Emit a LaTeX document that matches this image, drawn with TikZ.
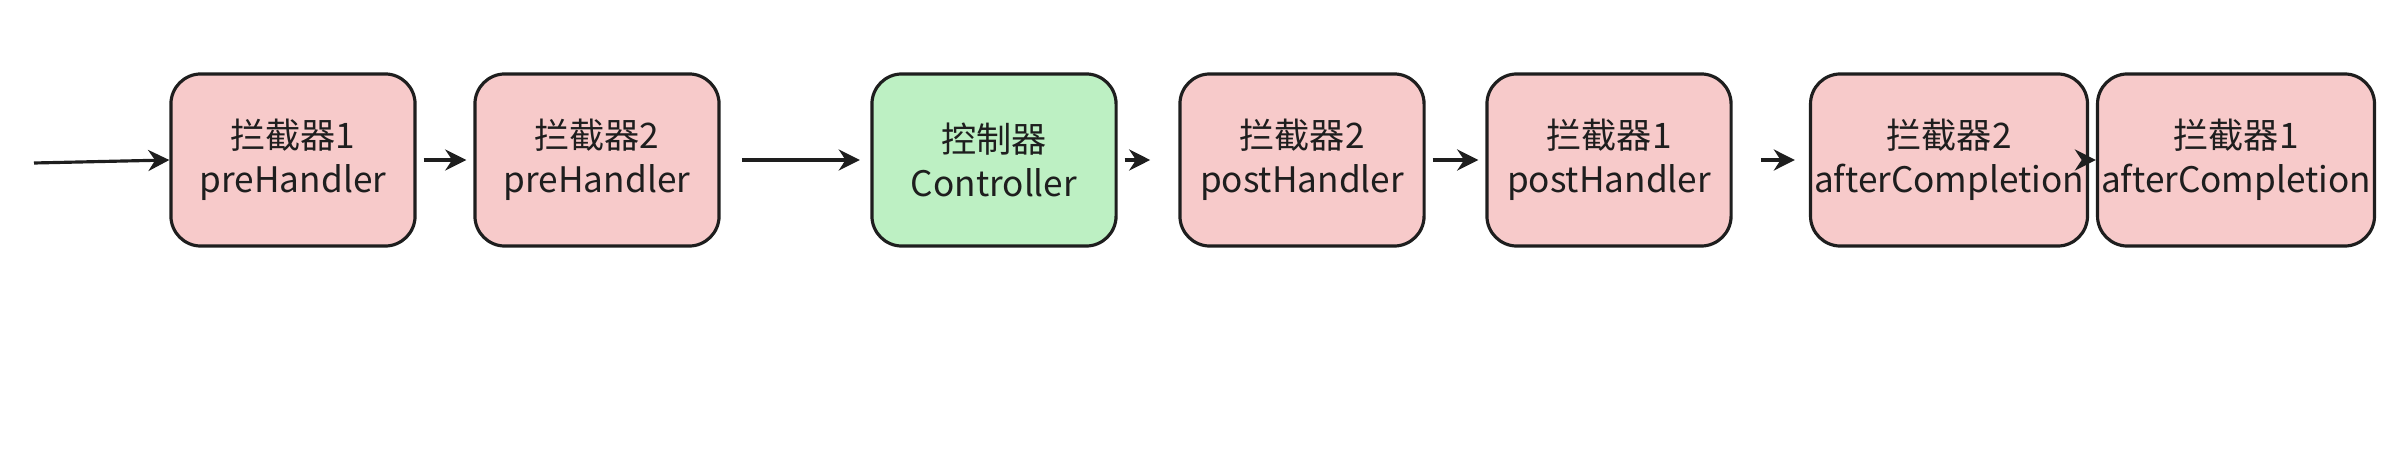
\documentclass[tikz,border=0pt]{standalone}
\usepackage{fontspec}
\setmainfont{Noto Sans CJK SC}
\usetikzlibrary{arrows.meta}
\definecolor{pinkfill}{HTML}{F7CACA}
\definecolor{greenfill}{HTML}{BDF0C3}
\definecolor{ink}{HTML}{1E1E1E}
\tikzset{
  box/.style={draw=ink, line width=0.9pt, rounded corners=0.3cm, minimum width=2.44cm, minimum height=1.72cm, align=center, font=\fontsize{10}{12.5}\selectfont, text=ink, inner sep=1pt},
  pinkbox/.style={box, fill=pinkfill},
  greenbox/.style={box, fill=greenfill},
  conn/.style={draw=ink, line width=0.9pt, -{Stealth[length=6pt,width=6pt]}}
}
\begin{document}
\begin{tikzpicture}[x=0.01cm,y=-0.01cm]
\useasboundingbox (0,0) rectangle (2394,464);
\node[pinkbox] (a) at (293,160) {拦截器1\\preHandler};
\node[pinkbox] (b) at (597,160) {拦截器2\\preHandler};
\node[greenbox] (c) at (994,160) {控制器\\Controller};
\node[pinkbox] (d) at (1302,160) {拦截器2\\postHandler};
\node[pinkbox] (e) at (1609,160) {拦截器1\\postHandler};
\node[pinkbox, minimum width=2.64cm] (f) at (1949,160) {拦截器2\\afterCompletion};
\node[pinkbox, minimum width=2.64cm] (g) at (2236,160) {拦截器1\\afterCompletion};
\coordinate (s) at (34,163);
\draw[conn] (s) -- (a.west);
\draw[conn] ([xshift=2]a.east) -- ([xshift=-2]b.west);
\draw[conn] ([xshift=6]b.east) -- ([xshift=-3]c.west);
\draw[conn] ([xshift=2]c.east) -- ([xshift=-8]d.west);
\draw[conn] ([xshift=2]d.east) -- ([xshift=-2]e.west);
\draw[conn] ([xshift=8]e.east) -- ([xshift=-4]f.west);
\draw[conn] (f.east) -- (g.west);
\end{tikzpicture}
\end{document}
